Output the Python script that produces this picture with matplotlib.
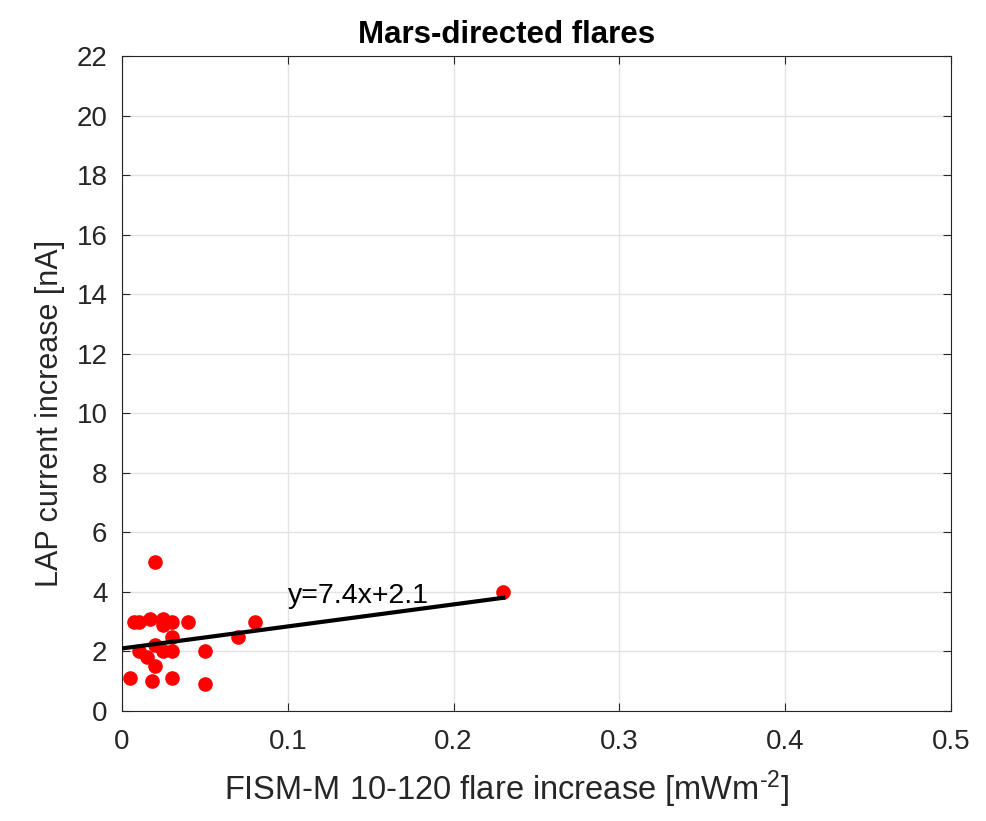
import numpy as np
import matplotlib
import matplotlib.pyplot as plt
matplotlib.use('Agg')

plt.rcParams['font.family'] = ['Liberation Sans', 'DejaVu Sans']
plt.rcParams['mathtext.fontset'] = 'custom'
plt.rcParams['mathtext.rm'] = 'Liberation Sans'
plt.rcParams['mathtext.it'] = 'Liberation Sans:italic'
plt.rcParams['mathtext.bf'] = 'Liberation Sans:bold'

# Flare data
fism_increase = [0.020, 0.007, 0.010, 0.017, 0.025, 0.025, 0.030, 0.040,
                 0.030, 0.080, 0.070, 0.020, 0.010, 0.015, 0.025, 0.030,
                 0.050, 0.020, 0.005, 0.018, 0.030, 0.050, 0.230]
lap_increase = [5.0, 3.0, 3.0, 3.1, 3.1, 2.9, 3.0, 3.0,
                2.5, 3.0, 2.5, 2.2, 2.0, 1.8, 2.0, 2.0,
                2.0, 1.5, 1.1, 1.0, 1.1, 0.9, 4.0]
fit_slope = 7.4
fit_intercept = 2.1

fig = plt.figure(figsize=(9.86, 8.21), dpi=100)
ax = fig.add_axes([0.1237, 0.134, 0.8408, 0.7978])

x = np.array(fism_increase)
y = np.array(lap_increase)
ax.plot(x, y, 'o', color='red', markersize=9.5, zorder=3)

# Linear fit
xf = np.array([0, x.max()])
ax.plot(xf, fit_slope * xf + fit_intercept, color='black', linewidth=3, zorder=4)
ax.text(0.1, 3.63, 'y=%.1fx+%.1f' % (fit_slope, fit_intercept), fontsize=20.5,
        va='baseline', ha='left')

ax.set_xlim(0, 0.5)
ax.set_ylim(0, 22)
ax.set_xticks(np.arange(0, 0.51, 0.1))
ax.set_xticklabels(['0', '0.1', '0.2', '0.3', '0.4', '0.5'])
ax.set_yticks(np.arange(0, 23, 2))
ax.grid(True, color='#e3e3e3', linewidth=1)
ax.set_axisbelow(True)
ax.tick_params(direction='in', length=6, labelsize=20, top=True, right=True,
               color='#262626', labelcolor='#262626')
ax.tick_params(axis='x', pad=13)
ax.tick_params(axis='y', pad=10.5)
ax.tick_params(labeltop=False, labelright=False)
for s in ax.spines.values():
    s.set_color('#262626')

ax.set_xlabel(r'FISM-M 10-120 flare increase [mWm$^{\text{-}2}$]', fontsize=23.5,
              color='#262626')
ax.xaxis.label.set_va('baseline')
ax.xaxis.set_label_coords(0.4635, -0.136)
ax.set_ylabel('LAP current increase [nA]', fontsize=22, color='#262626')
ax.yaxis.label.set_va('center')
ax.yaxis.set_label_coords(-0.087, 0.455)

fig.text(507 / 986, 0.9476, 'Mars-directed flares', fontsize=22.5,
         fontweight='bold', ha='center', va='baseline')

fig.savefig('out.png', dpi=100)
